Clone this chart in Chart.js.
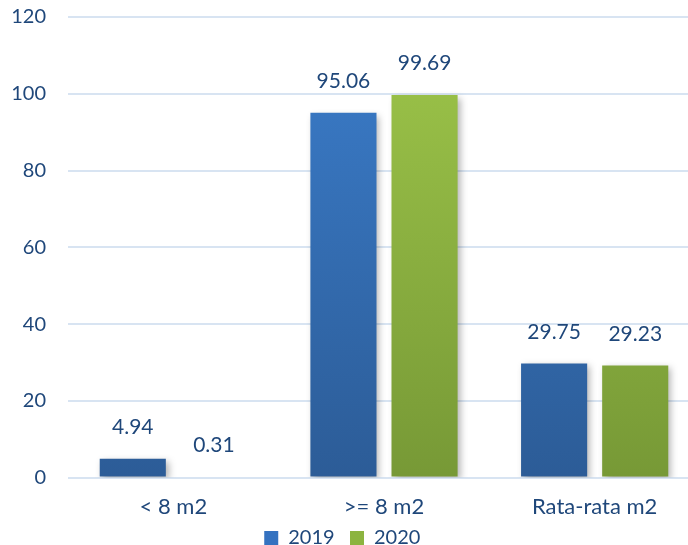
<!DOCTYPE html>
<html>
<head>
<meta charset="utf-8">
<script src="https://cdn.jsdelivr.net/npm/chart.js@4/dist/chart.umd.min.js"></script>
<style>
  html, body { margin: 0; padding: 0; overflow: hidden; background: #fff; }
  #wrap { width: 700px; height: 575px; margin-top: -17px; }
</style>
</head>
<body>
<div id="wrap"><canvas id="chart"></canvas></div>
<script>
// Data
const categories = ['< 8 m2', '>= 8 m2', 'Rata-rata m2'];
const values2019 = [4.94, 95.06, 29.75];
const values2020 = [0.31, 99.69, 29.23];
const yTicks = [0, 20, 40, 60, 80, 100, 120];

const textColor = '#1f477a';

// gradient top -> bottom
function gradient(top, bottom) {
    return function(ctx) {
        const area = ctx.chart.chartArea;
        if (!area) return top;
        const g = ctx.chart.ctx.createLinearGradient(0, area.top, 0, area.bottom);
        g.addColorStop(0, top);
        g.addColorStop(1, bottom);
        return g;
    };
}

// shadow on bars + value labels
const barExtras = {
    id: 'barExtras',
    beforeDatasetsDraw(chart) {
        const ctx = chart.ctx;
        ctx.save();
        ctx.shadowColor = 'rgba(0,0,0,0.3)';
        ctx.shadowBlur = 7;
        ctx.shadowOffsetX = 3;
        ctx.shadowOffsetY = 3;
    },
    afterDatasetsDraw(chart) {
        const ctx = chart.ctx;
        ctx.restore();
        ctx.save();
        ctx.font = '21px Lato';
        ctx.fillStyle = textColor;
        ctx.textAlign = 'center';
        ctx.textBaseline = 'bottom';
        chart.data.datasets.forEach((ds, i) => {
            chart.getDatasetMeta(i).data.forEach((bar, j) => {
                ctx.fillText(ds.data[j].toFixed(2), bar.x, bar.y - 21);
            });
        });
        ctx.restore();
    }
};

new Chart(document.getElementById('chart'), {
    type: 'bar',
    data: {
        labels: categories,
        datasets: [{
            label: '2019',
            data: values2019,
            backgroundColor: gradient('#3b7dcb', '#2c5c97')
        }, {
            label: '2020',
            data: values2020,
            backgroundColor: gradient('#9ec64a', '#779936')
        }]
    },
    options: {
        responsive: true,
        maintainAspectRatio: false,
        animation: false,
        categoryPercentage: 0.77,
        barPercentage: 0.815,
        layout: { padding: { top: 0, right: 0, left: 0, bottom: 0 } },
        plugins: {
            tooltip: { enabled: false },
            legend: {
                position: 'bottom',
                labels: {
                    color: textColor,
                    font: { family: 'Lato', size: 20 },
                    boxWidth: 14,
                    boxHeight: 14,
                    padding: 0,
                    generateLabels(chart) {
                        return chart.data.datasets.map((ds, i) => ({
                            text: ds.label + '   ',
                            fillStyle: i === 0 ? '#3472c0' : '#8cb440',
                            strokeStyle: 'transparent',
                            lineWidth: 0,
                            fontColor: textColor,
                            datasetIndex: i
                        }));
                    }
                }
            }
        },
        scales: {
            x: {
                grid: { display: false },
                border: { display: false },
                ticks: { color: textColor, font: { family: 'Lato', size: 22 }, padding: 8 }
            },
            y: {
                min: 0,
                max: 120,
                afterBuildTicks(scale) { scale.ticks = yTicks.map(v => ({ value: v })); },
                afterFit(scale) { scale.width = 68; },
                grid: { color: '#d8e4f2', lineWidth: 2, drawTicks: false },
                border: { display: false },
                ticks: { color: textColor, font: { family: 'Lato', size: 20 }, padding: 22 }
            }
        }
    },
    plugins: [barExtras]
});
</script>
</body>
</html>
